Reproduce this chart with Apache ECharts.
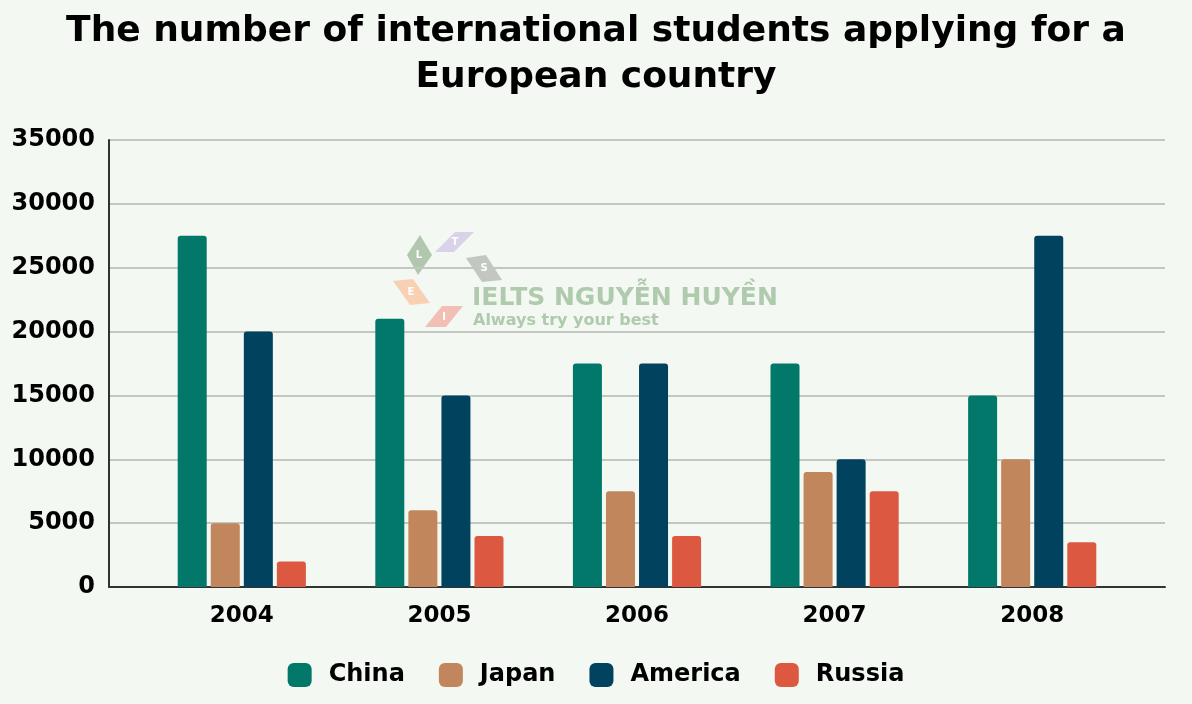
<!DOCTYPE html>
<html><head><meta charset="utf-8">
<script src="https://cdn.jsdelivr.net/npm/echarts@6/dist/echarts.min.js"></script>
<style>html,body{margin:0;padding:0;background:#f3f8f2}#c{width:1192px;height:704px}</style>
</head><body><div id="c"></div>
<script>
var years = ['2004','2005','2006','2007','2008'];
var china = [27500, 21000, 17500, 17500, 15000];
var japan = [5000, 6000, 7500, 9000, 10000];
var america = [20000, 15000, 17500, 10000, 27500];
var russia = [2000, 4000, 4000, 7500, 3500];
var seriesNames = ['China','Japan','America','Russia'];
var colors = ['#02786a','#c1865b','#01425e','#dc5840'];

var F = 'DejaVu Sans';
var chart = echarts.init(document.getElementById('c'));
function bar(name, data, color){
  return {name:name, type:'bar', xAxisIndex:1, yAxisIndex:1, data:data,
    barWidth:29, barGap:'14%', itemStyle:{color:color, borderRadius:[3,3,0,0]}};
}
function poly(points, color){
  return {type:'polygon', shape:{points:points}, style:{fill:color, opacity:0.85}, z:0, silent:true};
}
function letter(x,y,t){
  return {type:'text', x:x, y:y, style:{text:t, fill:'#ffffff', font:'bold 10px '+F, align:'center', verticalAlign:'middle'}, z:1, silent:true};
}
chart.setOption({
  backgroundColor:'#f3f8f2',
  color: colors,
  animation:false,
  title:{text:'The number of international students applying for a\nEuropean country', left:'center', top:4,
    textStyle:{fontFamily:F, fontSize:36, fontWeight:'bold', color:'#000', lineHeight:46}},
  legend:{bottom:12, left:'center', itemWidth:24, itemHeight:24, itemGap:34, icon:'roundRect',
    textStyle:{fontFamily:F, fontSize:24, fontWeight:'bold', color:'#000', padding:[0,0,0,12]},
    data:seriesNames},
  grid:[{left:109, right:27, top:140, bottom:117},{left:143, right:61, top:140, bottom:117}],
  xAxis:[
    {type:'category', gridIndex:0, data:years, axisLabel:{show:false}, axisTick:{show:false},
     axisLine:{lineStyle:{color:'#333', width:2}}},
    {type:'category', gridIndex:1, data:years, axisTick:{show:false}, axisLine:{show:false},
     axisLabel:{fontFamily:F, fontSize:23, fontWeight:'bold', color:'#000', margin:18}}
  ],
  yAxis:[
    {type:'value', gridIndex:0, min:0, max:35000, interval:5000,
     axisLine:{show:true, lineStyle:{color:'#333', width:2}}, axisTick:{show:false},
     splitLine:{lineStyle:{color:'#c3c7c2', width:2}},
     axisLabel:{fontFamily:F, fontSize:24, fontWeight:'bold', color:'#000', margin:14,
       formatter:function(v){return String(v);}}},
    {type:'value', gridIndex:1, min:0, max:35000, interval:5000, show:false, splitLine:{show:false}}
  ],
  graphic:[
    poly([[407,255],[420,235],[432,255],[418,275]], '#a5c0a2'),
    poly([[435,252],[455,232],[474,232],[454,252]], '#d4cbe6'),
    poly([[466,258],[486,255],[502,280],[482,282]], '#b9beb8'),
    poly([[393,281],[413,279],[430,303],[410,305]], '#fac9a8'),
    poly([[425,327],[442,306],[463,306],[446,327]], '#f1b5aa'),
    letter(419,255,'L'), letter(455,242,'T'), letter(484,268,'S'), letter(411,292,'E'), letter(444,317,'I'),
    {type:'text', x:472, y:298, silent:true, style:{text:'IELTS NGUYỄN HUYỀN', fill:'#a9c4a6', opacity:0.9,
      font:'bold 25px '+F, verticalAlign:'middle'}},
    {type:'text', x:473, y:321, silent:true, style:{text:'Always try your best', fill:'#a9c4a6', opacity:0.9,
      font:'bold 16px '+F, verticalAlign:'middle'}}
  ],
  series:[bar('China',china,colors[0]), bar('Japan',japan,colors[1]), bar('America',america,colors[2]), bar('Russia',russia,colors[3])]
});
</script></body></html>
